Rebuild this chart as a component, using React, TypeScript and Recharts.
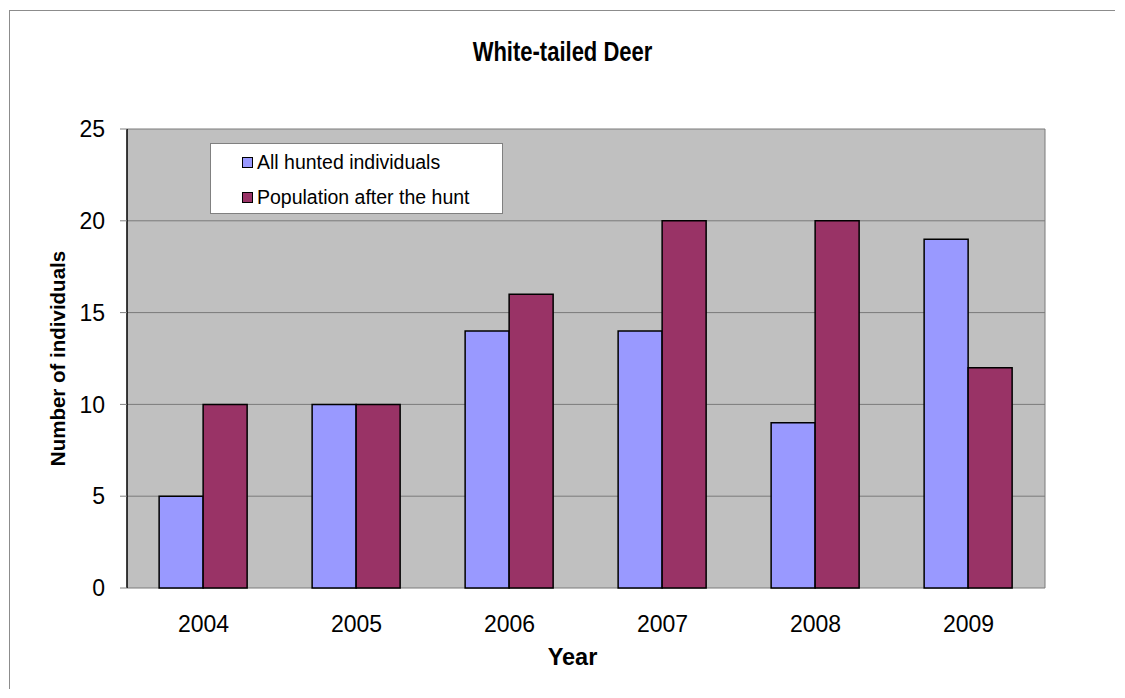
import { BarChart, Bar, XAxis, YAxis, CartesianGrid } from 'recharts'

const years = ['2004', '2005', '2006', '2007', '2008', '2009']
const hunted = [5, 10, 14, 14, 9, 19]
const afterHunt = [10, 10, 16, 20, 20, 12]
const yTicks = [0, 5, 10, 15, 20, 25]
const seriesNames = ['All hunted individuals', 'Population after the hunt']
const seriesColors = ['#9999FF', '#993366']

const FONT = '"Liberation Sans", Arial, sans-serif'

const data = years.map((year, i) => ({
  year,
  hunted: hunted[i],
  afterHunt: afterHunt[i],
}))

// boundaries between categories, where the little x tick marks sit
const edgeTicks = [...years.map((_, i) => i), years.length]

// eslint-disable-next-line @typescript-eslint/no-explicit-any
function XTick({ x, y, payload }: any) {
  return (
    <text
      x={x}
      y={y}
      dy="0.71em"
      textAnchor="middle"
      fontFamily={FONT}
      fontSize={23}
      fill="#000"
      transform={`translate(0 ${y}) scale(1 1.05) translate(0 ${-y})`}
    >
      {payload.value}
    </text>
  )
}

// eslint-disable-next-line @typescript-eslint/no-explicit-any
function YTick({ x, y, payload }: any) {
  return (
    <text
      x={x}
      y={y}
      dy="0.355em"
      textAnchor="end"
      fontFamily={FONT}
      fontSize={23}
      fill="#000"
    >
      {payload.value}
    </text>
  )
}

// eslint-disable-next-line @typescript-eslint/no-explicit-any
function YLabel({ viewBox }: any) {
  const bx = 55
  const cy = viewBox.y + viewBox.height / 2
  return (
    <text
      x={bx}
      y={cy}
      transform={`rotate(-90 ${bx} ${cy})`}
      textAnchor="middle"
      fontFamily={FONT}
      fontWeight="bold"
      fontSize={20.5}
      fill="#000"
    >
      Number of individuals
    </text>
  )
}

function XLabel() {
  return (
    <text
      x={562.5}
      y={654}
      textAnchor="middle"
      fontFamily={FONT}
      fontWeight="bold"
      fontSize={23.5}
      fill="#000"
    >
      Year
    </text>
  )
}

function LegendBox() {
  return (
    <div
      style={{
        position: 'absolute',
        left: 200,
        top: 132,
        width: 293,
        height: 71,
        boxSizing: 'border-box',
        border: '1px solid #808080',
        background: '#fff',
        fontFamily: FONT,
        fontSize: 19.5,
      }}
    >
      {seriesNames.map((name, i) => (
        <div
          key={name}
          style={{
            position: 'absolute',
            left: 31,
            top: (i === 0 ? 18 : 53) - 12,
            height: 24,
            display: 'flex',
            alignItems: 'center',
            whiteSpace: 'nowrap',
          }}
        >
          <span
            style={{
              display: 'inline-block',
              width: 11,
              height: 11,
              boxSizing: 'border-box',
              border: '1.5px solid #000',
              background: seriesColors[i],
              marginRight: 4,
            }}
          />
          {name}
        </div>
      ))}
    </div>
  )
}

export default function App() {
  return (
    <div
      style={{
        position: 'relative',
        width: 1105,
        height: 678,
        marginLeft: 1,
        marginTop: 2,
        borderTop: '1px solid #8c8c8c',
        borderLeft: '1px solid #8c8c8c',
      }}
    >
      <div
        style={{
          position: 'absolute',
          left: 0,
          top: 30,
          width: 1105,
          textAlign: 'center',
          fontFamily: FONT,
          fontWeight: 'bold',
          fontSize: 22,
          lineHeight: '22px',
          transform: 'scaleY(1.25)',
          transformOrigin: '50% 10.7px',
        }}
      >
        White-tailed Deer
      </div>
      <BarChart
        width={1105}
        height={678}
        data={data}
        margin={{ top: 118, right: 70, bottom: 0, left: 0 }}
        barCategoryGap="21%"
        barGap={0}
        accessibilityLayer={false}
      >
        <CartesianGrid
          fill="#C0C0C0"
          fillOpacity={1}
          stroke="#7a7a7a"
          strokeWidth={1}
          // eslint-disable-next-line @typescript-eslint/no-explicit-any
          verticalCoordinatesGenerator={({ offset }: any) => [offset.left + offset.width]}
        />
        <XAxis
          xAxisId="edges"
          type="number"
          domain={[0, years.length]}
          ticks={edgeTicks}
          allowDataOverflow
          height={0}
          tickSize={7}
          tickFormatter={() => ''}
          tickLine={{ stroke: '#808080' }}
          axisLine={{ stroke: '#000', strokeWidth: 1.5 }}
        />
        <XAxis
          dataKey="year"
          height={101}
          axisLine={false}
          tickLine={false}
          tickSize={0}
          tickMargin={27}
          tick={<XTick />}
          label={<XLabel />}
        />
        <YAxis
          domain={[0, 25]}
          ticks={yTicks}
          width={117}
          tickSize={7}
          tickMargin={15}
          axisLine={{ stroke: '#000', strokeWidth: 1.5 }}
          tickLine={{ stroke: '#808080' }}
          tick={<YTick />}
          label={<YLabel />}
        />
        <Bar
          dataKey="hunted"
          name={seriesNames[0]}
          fill={seriesColors[0]}
          stroke="#000"
          strokeWidth={1.5}
          isAnimationActive={false}
        />
        <Bar
          dataKey="afterHunt"
          name={seriesNames[1]}
          fill={seriesColors[1]}
          stroke="#000"
          strokeWidth={1.5}
          isAnimationActive={false}
        />
      </BarChart>
      <LegendBox />
    </div>
  )
}
